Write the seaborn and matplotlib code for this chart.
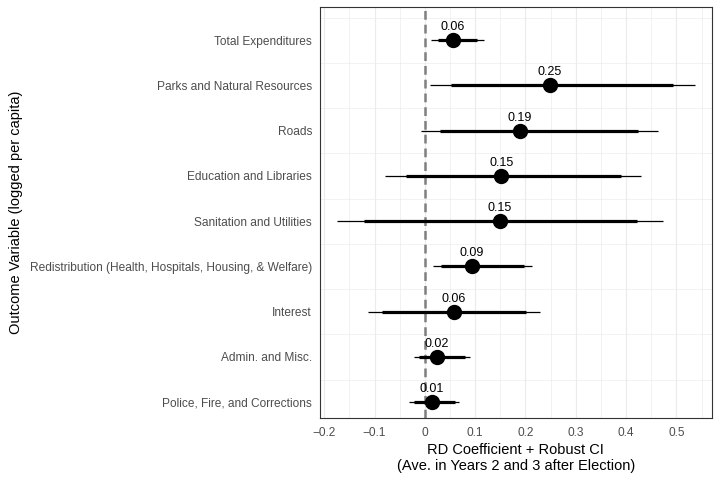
import numpy as np
import pandas as pd
import seaborn as sns
import matplotlib.pyplot as plt
from matplotlib.ticker import MultipleLocator

# data
outcomes = ["Total Expenditures", "Parks and Natural Resources", "Roads",
            "Education and Libraries", "Sanitation and Utilities",
            "Redistribution (Health, Hospitals, Housing, & Welfare)",
            "Interest", "Admin. and Misc.", "Police, Fire, and Corrections"]
coef = [0.056, 0.249, 0.189, 0.152, 0.149, 0.093, 0.058, 0.024, 0.014]
ci95_lo = [0.012, 0.010, -0.007, -0.080, -0.174, 0.017, -0.113, -0.022, -0.031]
ci95_hi = [0.118, 0.537, 0.463, 0.429, 0.474, 0.214, 0.229, 0.089, 0.068]
ci90_lo = [0.026, 0.053, 0.031, -0.038, -0.121, 0.033, -0.085, -0.012, -0.021]
ci90_hi = [0.103, 0.494, 0.424, 0.390, 0.421, 0.197, 0.201, 0.080, 0.060]

df = pd.DataFrame({"outcome": outcomes, "coef": coef,
                   "lo95": ci95_lo, "hi95": ci95_hi,
                   "lo90": ci90_lo, "hi90": ci90_hi})

sns.set_theme(style="white")
plt.rcParams["font.family"] = ["Liberation Sans", "DejaVu Sans"]

fig, ax = plt.subplots(figsize=(7.2, 4.8), dpi=100)
fig.subplots_adjust(left=0.444, right=0.989, top=0.985, bottom=0.129)

pos = np.arange(len(df))

# grid like theme_bw
ax.xaxis.set_major_locator(MultipleLocator(0.1))
ax.xaxis.set_minor_locator(MultipleLocator(0.05))
ax.set_yticks(pos)
ax.set_yticks(np.arange(-0.5, len(df), 1.0), minor=True)
ax.grid(which="major", color="#EBEBEB", linewidth=0.8)
ax.grid(which="minor", color="#EBEBEB", linewidth=0.45)
ax.set_axisbelow(True)

ax.axvline(0, color="#7F7F7F", linewidth=1.8, dashes=(3.5, 2), zorder=2)

ax.hlines(pos, df["lo95"], df["hi95"], color="black", linewidth=0.9, zorder=3)
ax.hlines(pos, df["lo90"], df["hi90"], color="black", linewidth=2.3, zorder=3)

sns.pointplot(data=df, x="coef", y="outcome", linestyle="none", markers="o",
              color="black", errorbar=None, markersize=9, ax=ax, zorder=4)

for i, row in df.iterrows():
    ax.text(row["coef"], i - 0.29, f"{row['coef']:.2f}", ha="center",
            va="center", fontsize=9, color="black", zorder=5)

ax.set_xlim(-0.209, 0.571)
ax.set_ylim(len(df) - 1 + 0.35, -0.73)
ax.set_xticks([-0.2, -0.1, 0, 0.1, 0.2, 0.3, 0.4, 0.5])
ax.set_xticklabels(["\u22120.2", "\u22120.1", "0", "0.1", "0.2", "0.3", "0.4", "0.5"])

ax.tick_params(axis="both", which="major", length=3, width=0.8, color="#333333",
               labelsize=8.6, labelcolor="#4D4D4D", pad=2.5)
ax.tick_params(axis="x", which="major", pad=3.5)
ax.tick_params(which="minor", length=0)
for s in ax.spines.values():
    s.set_color("#333333")
    s.set_linewidth(0.8)

ax.set_xlabel("RD Coefficient + Robust CI\n(Ave. in Years 2 and 3 after Election)",
              fontsize=10.5, color="black", labelpad=3)
ax.set_ylabel("Outcome Variable (logged per capita)", fontsize=10.5,
              color="black", labelpad=5)

plt.savefig("out.png", dpi=100)
